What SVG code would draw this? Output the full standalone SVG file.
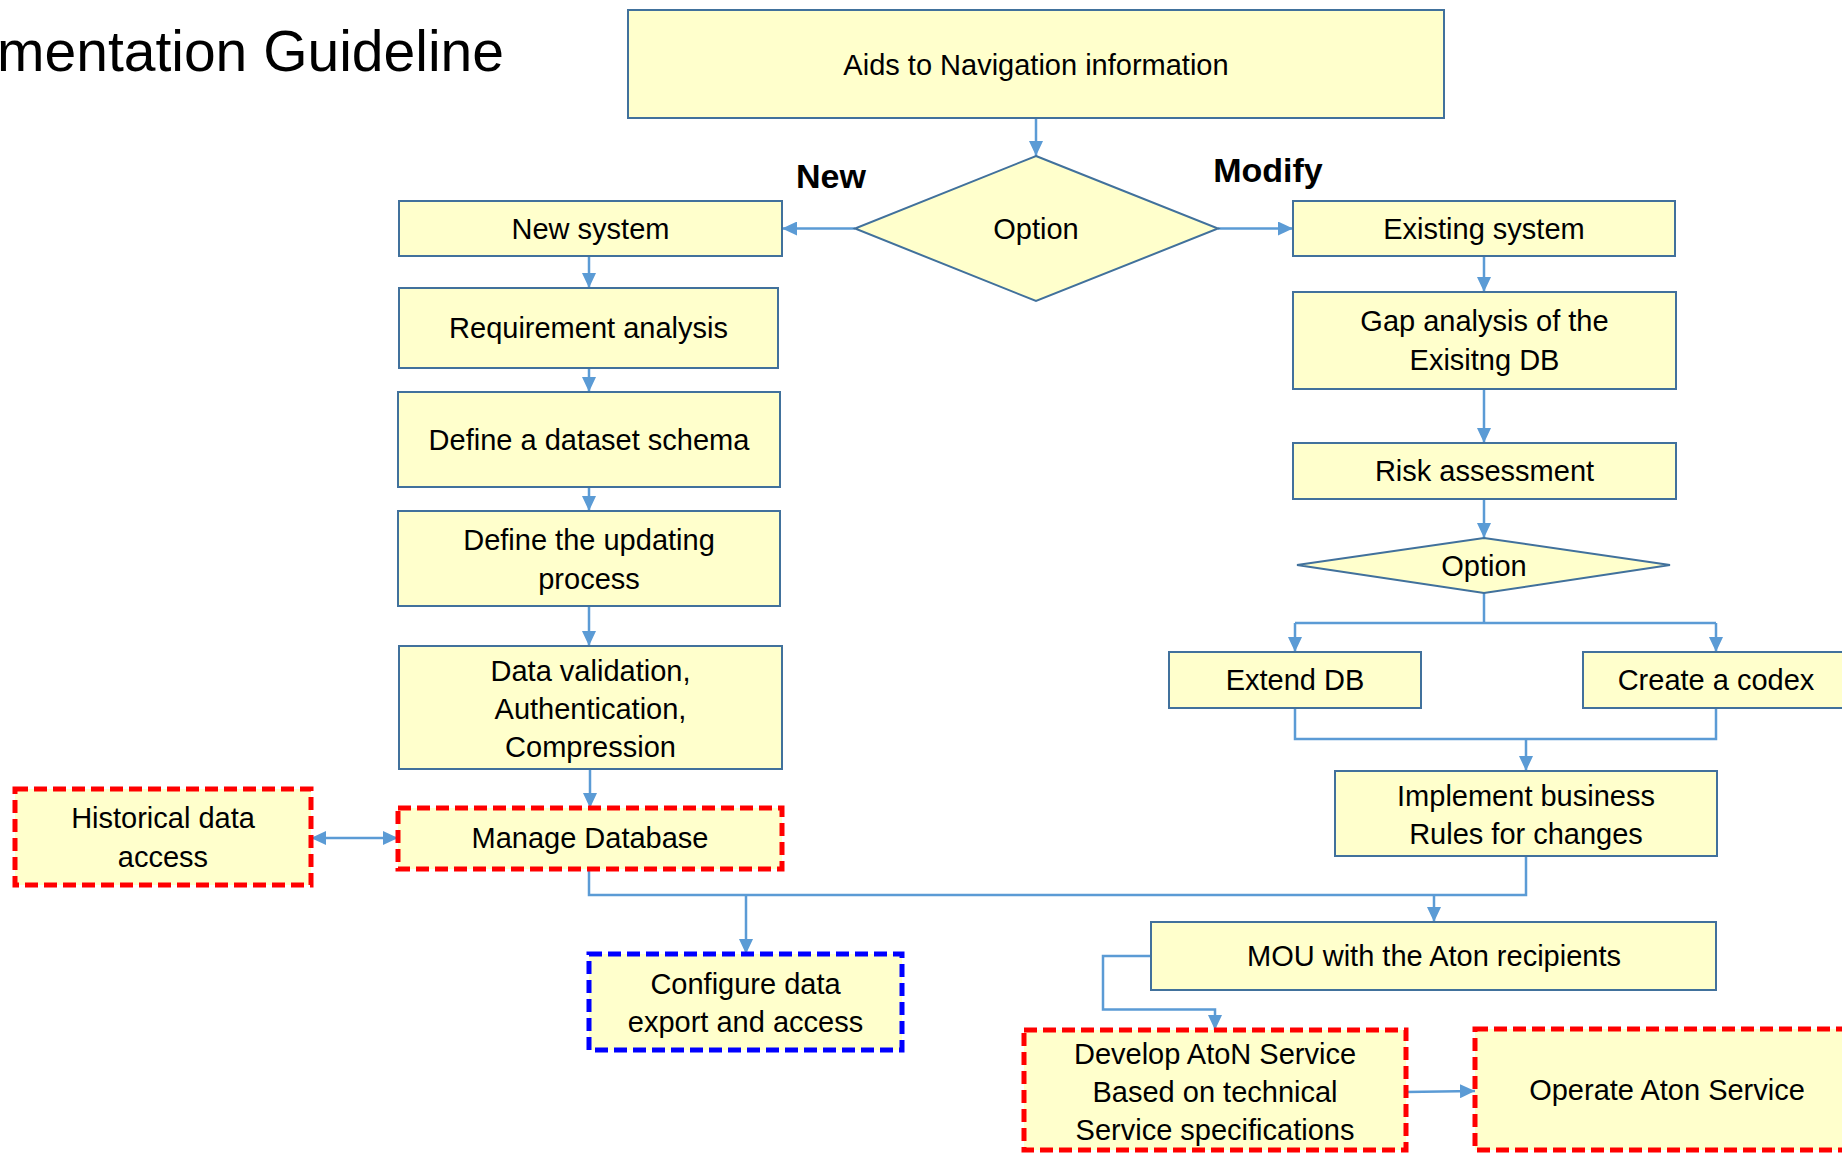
<svg xmlns="http://www.w3.org/2000/svg" width="1842" height="1153" viewBox="0 0 1842 1153">
<style>
.box{fill:#FFFFCC;stroke:#41719C;stroke-width:2}
.red{fill:#FFFFCC;stroke:#FF0000;stroke-width:5;stroke-dasharray:13 6}
.blue{fill:#FFFFCC;stroke:#0000FF;stroke-width:5;stroke-dasharray:13 6}
.t{font-family:"Liberation Sans",Arial,sans-serif;font-size:29px;text-anchor:middle;fill:#000}
.lbl{font-family:"Liberation Sans",Arial,sans-serif;font-size:34px;font-weight:bold;text-anchor:middle;fill:#000}
.title{font-family:"Liberation Sans",Arial,sans-serif;font-size:57px;text-anchor:end;fill:#000}
.c{fill:none;stroke:#5B9BD5;stroke-width:2.5}
.a{marker-end:url(#ah)}
</style>
<defs>
<marker id="ah" viewBox="0 0 15 14" refX="15" refY="7" markerWidth="15" markerHeight="14" markerUnits="userSpaceOnUse" orient="auto-start-reverse">
<path d="M0,0 L15,7 L0,14 z" fill="#5B9BD5"/>
</marker>
</defs>
<rect width="1842" height="1153" fill="#FFFFFF"/>
<text class="title" x="504" y="71">mentation Guideline</text>
<text class="lbl" x="831" y="188">New</text>
<text class="lbl" x="1268" y="182">Modify</text>

<g id="connectors">
<path class="c a" d="M1036,119 V156"/>
<path class="c a" d="M855,228.5 H782"/>
<path class="c a" d="M1218,228.5 H1293"/>
<path class="c a" d="M589,256 V288"/>
<path class="c a" d="M589,368 V392"/>
<path class="c a" d="M589,487 V511"/>
<path class="c a" d="M589,606 V646"/>
<path class="c a" d="M590,769 V808"/>
<path class="c" d="M311,838 H398" marker-start="url(#ah)" marker-end="url(#ah)"/>
<path class="c" d="M589,869 V895 H1526 V856"/>
<path class="c a" d="M746,895 V954"/>
<path class="c a" d="M1434,895 V922"/>
<path class="c a" d="M1484,256 V292"/>
<path class="c a" d="M1484,389 V443"/>
<path class="c a" d="M1484,499 V538"/>
<path class="c" d="M1484,593 V623 M1295,623 H1716"/>
<path class="c a" d="M1295,623 V652"/>
<path class="c a" d="M1716,623 V652"/>
<path class="c" d="M1295,708 V739 H1716 V708"/>
<path class="c a" d="M1526,739 V771"/>
<path class="c a" d="M1151,956 H1103 V1009.5 H1215 V1030"/>
<path class="c a" d="M1406,1092 L1475,1091"/>
</g>

<g id="aids"><rect class="box" x="628" y="10" width="816" height="108"/><text class="t" x="1036" y="75">Aids to Navigation information</text></g>
<g id="option1"><polygon class="box" points="1036,156 1218,228.5 1036,301 855,228.5"/><text class="t" x="1036" y="239">Option</text></g>
<g id="new-system"><rect class="box" x="399" y="201" width="383" height="55"/><text class="t" x="590.5" y="239">New system</text></g>
<g id="requirement"><rect class="box" x="399" y="288" width="379" height="80"/><text class="t" x="588.5" y="338">Requirement analysis</text></g>
<g id="schema"><rect class="box" x="398" y="392" width="382" height="95"/><text class="t" x="589" y="450">Define a dataset schema</text></g>
<g id="updating"><rect class="box" x="398" y="511" width="382" height="95"/><text class="t" x="589" y="550">Define the updating</text><text class="t" x="589" y="589">process</text></g>
<g id="validation"><rect class="box" x="399" y="646" width="383" height="123"/><text class="t" x="590.5" y="681">Data validation,</text><text class="t" x="590.5" y="719">Authentication,</text><text class="t" x="590.5" y="757">Compression</text></g>
<g id="manage-db"><rect class="red" x="398" y="808" width="384" height="61"/><text class="t" x="590" y="848">Manage Database</text></g>
<g id="historical"><rect class="red" x="15" y="789" width="296" height="96"/><text class="t" x="163" y="828">Historical data</text><text class="t" x="163" y="867">access</text></g>
<g id="configure"><rect class="blue" x="589" y="954" width="313" height="96"/><text class="t" x="745.5" y="994">Configure data</text><text class="t" x="745.5" y="1032">export and access</text></g>
<g id="existing"><rect class="box" x="1293" y="201" width="382" height="55"/><text class="t" x="1484" y="239">Existing system</text></g>
<g id="gap"><rect class="box" x="1293" y="292" width="383" height="97"/><text class="t" x="1484.5" y="331">Gap analysis of the</text><text class="t" x="1484.5" y="370">Exisitng DB</text></g>
<g id="risk"><rect class="box" x="1293" y="443" width="383" height="56"/><text class="t" x="1484.5" y="481">Risk assessment</text></g>
<g id="option2"><polygon class="box" points="1484,538 1670,565 1484,593 1297,565"/><text class="t" x="1484" y="576">Option</text></g>
<g id="extend"><rect class="box" x="1169" y="652" width="252" height="56"/><text class="t" x="1295" y="690">Extend DB</text></g>
<g id="codex"><rect class="box" x="1583" y="652" width="267" height="56"/><text class="t" x="1716" y="690">Create a codex</text></g>
<g id="implement"><rect class="box" x="1335" y="771" width="382" height="85"/><text class="t" x="1526" y="806">Implement business</text><text class="t" x="1526" y="844">Rules for changes</text></g>
<g id="mou"><rect class="box" x="1151" y="922" width="565" height="68"/><text class="t" x="1434" y="966">MOU with the Aton recipients</text></g>
<g id="develop"><rect class="red" x="1024" y="1030" width="382" height="120"/><text class="t" x="1215" y="1064">Develop AtoN Service</text><text class="t" x="1215" y="1102">Based on technical</text><text class="t" x="1215" y="1140">Service specifications</text></g>
<g id="operate"><rect class="red" x="1475" y="1029" width="384" height="121"/><text class="t" x="1667" y="1100">Operate Aton Service</text></g>
</svg>
